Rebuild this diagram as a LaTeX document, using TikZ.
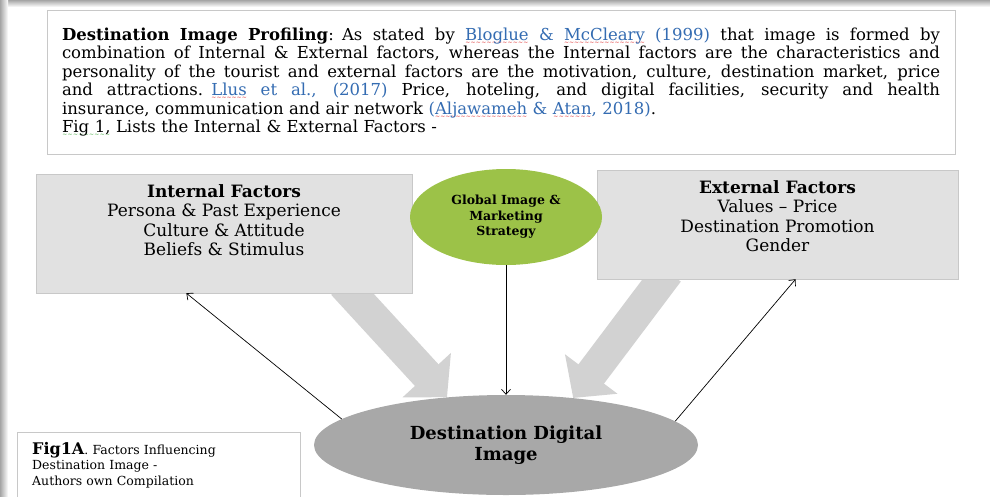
\documentclass[tikz,border=0pt]{standalone}
\usepackage{fontspec}
\setmainfont{DejaVu Serif}
\usetikzlibrary{shapes.geometric,arrows.meta,calc,backgrounds}

\definecolor{linkblue}{RGB}{52,108,178}
\definecolor{boxgray}{RGB}{225,225,225}
\definecolor{boxline}{RGB}{200,200,200}
\definecolor{globgreen}{RGB}{156,194,72}
\definecolor{imggray}{RGB}{168,168,168}
\definecolor{flowgray}{RGB}{210,210,210}
\definecolor{framegray}{RGB}{165,165,165}
\definecolor{spellred}{RGB}{220,40,40}
\definecolor{grammargreen}{RGB}{60,170,60}

% wavy marks under words
\newsavebox\redwave
\newsavebox\greenwave
\newcommand\wavyline[2]{\leavevmode\setbox0\hbox{#2}\rlap{\raisebox{-4.3pt}[0pt][0pt]{\hbox to \wd0{\xleaders\copy#1\hfil}}}\box0\relax}
\newcommand\spellerr[1]{\wavyline{\redwave}{#1}}
% one justified line of the intro text
\newcommand\fullline[1]{\makebox[878pt][s]{\spaceskip=0.33em plus 2em minus 0.08em\relax #1}}

\tikzset{
  introbox/.style={draw=boxline, fill=white, text width=878pt, inner xsep=15pt,
    inner ysep=0pt, minimum height=144pt, align=left,
    font=\fontsize{16.5}{18.4}\selectfont},
  factorbox/.style={draw=boxline, fill=boxgray, inner sep=0pt,
    font=\fontsize{17}{19.3}\selectfont},
  globell/.style={ellipse, fill=globgreen, minimum width=192pt, minimum height=96pt,
    inner sep=0pt, align=center, font=\bfseries\fontsize{12.5}{15.5}\selectfont},
  imgell/.style={ellipse, fill=imggray, minimum width=384pt, minimum height=100pt,
    inner sep=0pt, align=center, font=\bfseries\fontsize{18}{21}\selectfont},
  capbox/.style={draw=boxline, fill=white, text width=253pt, inner xsep=15pt,
    inner ysep=10pt, align=left, font=\fontsize{12.5}{15.5}\selectfont},
  thinarrow/.style={draw=black, line width=0.7pt, -{Straight Barb[length=5pt,width=9pt]}},
  flowarrow/.style={draw=flowgray, line width=32pt, -{Triangle[width=64pt,length=30pt]}}
}

\begin{document}
\sbox\redwave{\color{spellred}\fontsize{6}{6}\selectfont\char`\~}%
\sbox\greenwave{\color{grammargreen}\fontsize{6}{6}\selectfont\char`\~}%
\begin{tikzpicture}[x=1pt,y=-1pt]
  \useasboundingbox (0,0) rectangle (990,496);
  % shadow frame
  \shade[top color=framegray, bottom color=white] (0,0) rectangle (990,7);
  \shade[left color=framegray, right color=white] (0,0) rectangle (8,496);

  \node[introbox] (intro) at (501,82) {%
    \fullline{\textbf{Destination Image Profiling}: As stated by \textcolor{linkblue}{\spellerr{Bloglue} \& \spellerr{McCleary} (1999)} that image is formed by}\\
    \fullline{combination of Internal \& External factors, whereas the Internal factors are the characteristics and}\\
    \fullline{personality of the tourist and external factors are the motivation, culture, destination market, price}\\
    \fullline{and attractions. \textcolor{linkblue}{\spellerr{Llus} et al., (2017)} Price, hoteling, and digital facilities, security and health}\\
    insurance, communication and air network \textcolor{linkblue}{(\spellerr{Aljawameh} \& \spellerr{Atan}, 2018)}.\\
    \wavyline{\greenwave}{Fig 1,} Lists the Internal \& External Factors -};

  \node[factorbox] (intf) at (224,233.5) {\parbox[c][119pt][t]{376pt}{\centering\vspace*{10.5pt}%
    {\bfseries Internal Factors}\\Persona \& Past Experience\\Culture \& Attitude\\Beliefs \& Stimulus}};
  \node[factorbox] (extf) at (777.5,224.5) {\parbox[c][109pt][t]{361pt}{\centering\vspace*{10.5pt}%
    {\bfseries External Factors}\\Values – Price\\Destination Promotion\\Gender}};

  \node[globell] (glob) at (506,217) {Global Image \&\\Marketing\\Strategy};
  \node[imgell] (dimg) at (506,445) {Destination Digital\\Image};

  \node[capbox, anchor=north west] (figcap) at (17,432)
    {{\bfseries\fontsize{16}{16}\selectfont Fig1A}. Factors Influencing\\Destination Image -\\Authors own Compilation};

  % flows into the image
  \coordinate (inflow) at (343,284);
  \coordinate (exflow) at (668,272);
  \begin{scope}[on background layer]
    \draw[flowarrow] (inflow) -- (dimg.141);
    \draw[flowarrow] (exflow) -- (dimg.35);
  \end{scope}

  \draw[thinarrow] (glob) -- (dimg);
  \draw[thinarrow] (dimg.171) -- ($(intf.south west)!0.4!(intf.south east)$);
  \draw[thinarrow] (dimg.8) -- ($(extf.south west)!0.55!(extf.south east)$);
\end{tikzpicture}
\end{document}
